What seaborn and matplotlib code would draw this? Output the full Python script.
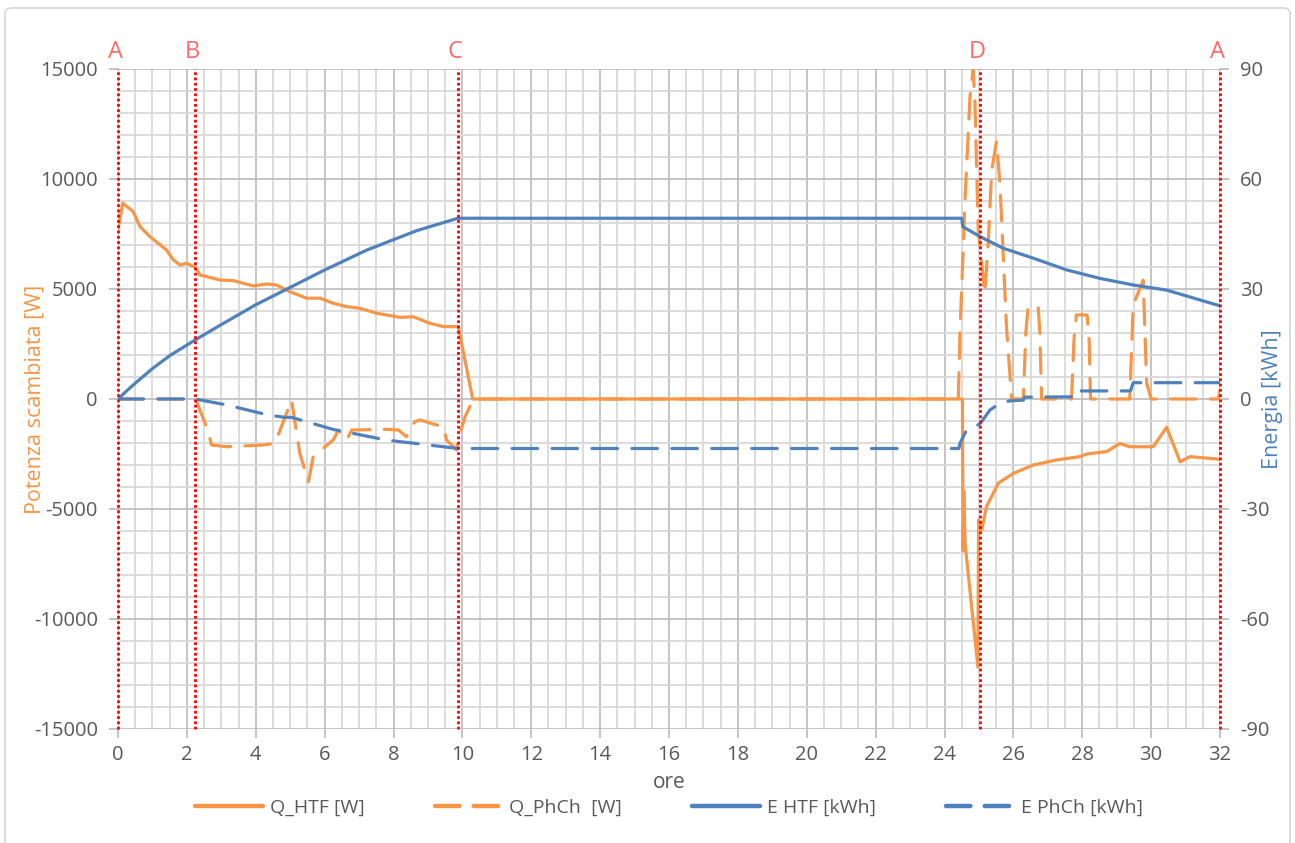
import numpy as np
import pandas as pd
import seaborn as sns
import matplotlib.pyplot as plt
from matplotlib.patches import FancyBboxPatch
from matplotlib.lines import Line2D
import matplotlib.transforms as mtransforms

# ---------------- data ----------------
t_qhtf = [0.0, 0.14, 0.44, 0.64, 0.93, 1.41, 1.61, 1.80, 1.99, 2.24, 2.38, 2.96, 3.35, 3.93,
          4.32, 4.61, 4.99, 5.48, 5.87, 6.25, 6.64, 7.03, 7.51, 8.19, 8.57, 9.06, 9.45, 9.88,
          10.30, 24.52, 24.54, 24.56, 24.60, 24.97, 24.99, 25.08, 25.22, 25.56, 26.00, 26.58,
          27.26, 27.93, 28.13, 28.71, 29.09, 29.38, 30.06, 30.45, 30.84, 31.13, 32.00]
q_htf = [7700, 8900, 8520, 7830, 7380, 6770, 6320, 6090, 6170, 5990, 5640, 5410, 5380, 5140,
         5230, 5180, 4880, 4580, 4580, 4350, 4200, 4120, 3900, 3710, 3740, 3440, 3290, 3290,
         0, 0, -6900, -4200, -6600, -12180, -5500, -5950, -4890, -3830, -3380, -3000,
         -2770, -2620, -2500, -2390, -2020, -2170, -2170, -1290, -2850, -2620, -2740]

t_qphch = [0.0, 2.25, 2.57, 2.72, 3.16, 4.22, 4.56, 5.04, 5.28, 5.53, 5.67, 6.25, 6.40, 6.64,
           6.79, 7.80, 8.14, 8.38, 8.62, 8.77, 9.25, 9.45, 9.54, 9.83, 9.93, 10.08, 10.32,
           24.40, 24.45, 24.60, 24.74, 24.83, 24.88, 24.98, 25.17, 25.27, 25.37, 25.51, 25.61,
           25.80, 25.95, 26.29, 26.36, 26.43, 26.72, 26.77, 26.82, 27.69, 27.76, 27.83, 28.14,
           28.20, 28.24, 29.38, 29.48, 29.77, 29.87, 30.00, 31.95, 32.00]
q_phch = [0, 0, -1260, -2090, -2170, -2090, -2015, -45, -2470, -3760, -2620, -1860, -1410, -1860,
          -1410, -1380, -1410, -1710, -1030, -955, -1180, -1260, -1860, -2320, -1560, -800, 0,
          0, 3000, 9200, 13740, 14950, 13740, 7680, 4800, 7080, 10400, 11700, 9800,
          3290, 0, 0, 3000, 4200, 4200, 3000, 0, 0, 2700, 3820, 3820,
          2700, 0, 0, 4270, 5400, 730, 0, 0, 400]

t_ehtf = [0.0, 0.25, 0.5, 1.0, 1.5, 2.24, 3.0, 4.0, 4.95, 5.96, 7.22, 8.67, 9.87, 24.50,
          24.53, 25.03, 25.71, 26.58, 27.55, 28.51, 29.48, 30.45, 32.00]
e_htf = [0.0, 2.2, 4.3, 8.3, 11.8, 16.1, 20.3, 25.7, 30.2, 35.0, 40.6, 45.9, 49.3, 49.3,
         47.0, 44.3, 41.1, 38.4, 35.2, 32.9, 31.1, 29.7, 25.4]

t_ephch = [0.0, 2.24, 3.15, 4.37, 4.85, 5.04, 6.25, 7.80, 9.88, 24.42, 24.45, 24.64, 25.03,
           25.32, 25.60, 25.90, 26.29, 26.32, 27.78, 27.83, 29.40, 29.48, 32.00]
e_phch = [0.0, 0.0, -1.6, -4.4, -5.0, -5.0, -8.3, -11.2, -13.5, -13.5, -12.1, -8.5, -6.8,
          -3.0, -1.2, -0.5, -0.3, 0.5, 0.6, 2.2, 2.2, 4.45, 4.45]

phase_t = [0.0, 2.23, 9.87, 25.03, 32.0]
phase_lbl = ["A", "B", "C", "D", "A"]

x_ticks = list(range(0, 33, 2))
y_ticks = list(range(-15000, 15001, 5000))
y2_ticks = list(range(-90, 91, 30))

# ---------------- style ----------------
sns.set_theme(style="white")
plt.rcParams['font.family'] = ['Open Sans', 'DejaVu Sans']
plt.rcParams['axes.unicode_minus'] = False

ORANGE = "#F79646"
BLUE = "#4F81BD"
GRAYTXT = "#595959"

fig = plt.figure(figsize=(12.95, 8.43), dpi=100)
ax = fig.add_axes([118 / 1295, 1 - 729 / 843, 1102 / 1295, 660 / 843])
ax2 = ax.twinx()

df1 = pd.DataFrame({"t": t_qhtf, "v": q_htf})
df2 = pd.DataFrame({"t": t_qphch, "v": q_phch})
df3 = pd.DataFrame({"t": t_ehtf, "v": e_htf})
df4 = pd.DataFrame({"t": t_ephch, "v": e_phch})

lw = 2.3
sns.lineplot(data=df1, x="t", y="v", ax=ax, color=ORANGE, lw=lw, estimator=None, sort=False, legend=False)
l1 = ax.lines[-1]
sns.lineplot(data=df2, x="t", y="v", ax=ax, color=ORANGE, lw=lw, estimator=None, sort=False, legend=False)
l2 = ax.lines[-1]
l2.set_dashes((8, 4.5))
sns.lineplot(data=df3, x="t", y="v", ax=ax2, color=BLUE, lw=lw, estimator=None, sort=False, legend=False)
l3 = ax2.lines[-1]
sns.lineplot(data=df4, x="t", y="v", ax=ax2, color=BLUE, lw=lw, estimator=None, sort=False, legend=False)
l4 = ax2.lines[-1]
l4.set_dashes((8, 4.5))
for ln in (l1, l2, l3, l4):
    ln.set_solid_capstyle('round')
    ln.set_dash_capstyle('round')
    ln.set_solid_joinstyle('round')

# axes limits / ticks
ax.set_xlim(0, 32)
ax.set_ylim(-15000, 15000)
ax2.set_ylim(-90, 90)
ax.set_xticks(x_ticks)
ax.set_xticks(np.arange(0, 32.01, 0.5), minor=True)
ax.set_yticks(y_ticks)
ax.set_yticks(np.arange(-15000, 15001, 1000), minor=True)
ax2.set_yticks(y2_ticks)

ax.grid(which='minor', color='#D9D9D9', lw=1.3, zorder=0)
ax.grid(which='major', color='#BFBFBF', lw=1.3, zorder=0)
ax.set_axisbelow(True)
ax2.grid(False)

for a in (ax, ax2):
    for s in a.spines.values():
        s.set_visible(False)

ax.tick_params(axis='both', which='major', direction='out', length=6.5, width=1.3,
               color='#BFBFBF', labelsize=14.5, labelcolor=GRAYTXT, pad=8)
ax.tick_params(axis='both', which='minor', length=0)
ax.tick_params(axis='y', left=True)
ax.tick_params(axis='x', bottom=True, pad=5)
ax2.tick_params(axis='y', which='major', direction='out', length=6.5, width=1.3,
                color='#BFBFBF', labelsize=14.5, labelcolor=GRAYTXT, pad=8, right=True)
ax.set_xlabel("")
ax.set_ylabel("")
ax2.set_ylabel("")

# axis titles
ax.text(-0.0753, 0.5, "Potenza scambiata [W]", transform=ax.transAxes, rotation=90,
        ha='center', va='center', fontsize=15.5, color=ORANGE)
ax2.text(1.0472, 0.5, "Energia [kWh]", transform=ax.transAxes, rotation=90,
         ha='center', va='center', fontsize=15.5, color=BLUE)
ax.text(0.5, -0.0818, "ore", transform=ax.transAxes, ha='center', va='center',
        fontsize=15, color=GRAYTXT)

# phase lines + letters
trans = mtransforms.blended_transform_factory(ax2.transData, ax2.transAxes)
for xv, lb in zip(phase_t, phase_lbl):
    ax2.axvline(xv, color='#FF0000', lw=2.0, linestyle=(0, (1, 0.9)), zorder=10, clip_on=False)
    ax2.text(xv - 0.08, 1.008, lb, transform=trans, ha='center', va='bottom',
             fontsize=17, color='#FF6B6B', clip_on=False)

# legend
handles = [Line2D([], [], color=ORANGE, lw=3.2, solid_capstyle='round'),
           Line2D([], [], color=ORANGE, lw=3.2, dashes=(5.5, 3.2), dash_capstyle='round'),
           Line2D([], [], color=BLUE, lw=3.2, solid_capstyle='round'),
           Line2D([], [], color=BLUE, lw=3.2, dashes=(5.5, 3.2), dash_capstyle='round')]
labels = ["Q_HTF [W]", "Q_PhCh  [W]", "E HTF [kWh]", "E PhCh [kWh]"]
fig.legend(handles, labels, loc='center', bbox_to_anchor=(669 / 1295, 1 - 808 / 843), ncol=4,
           frameon=False, fontsize=14, handlelength=3.5, handletextpad=0.35,
           columnspacing=3.6, labelcolor=GRAYTXT)

# figure frame
fig.patches.append(FancyBboxPatch((5 / 1295, -0.02), 1285 / 1295, 1.02 - 8 / 843,
                                  boxstyle='round,pad=0,rounding_size=0.006',
                                  transform=fig.transFigure, fc='none', ec='#D9D9D9', lw=1.3))

fig.savefig("out.png", dpi=100)
